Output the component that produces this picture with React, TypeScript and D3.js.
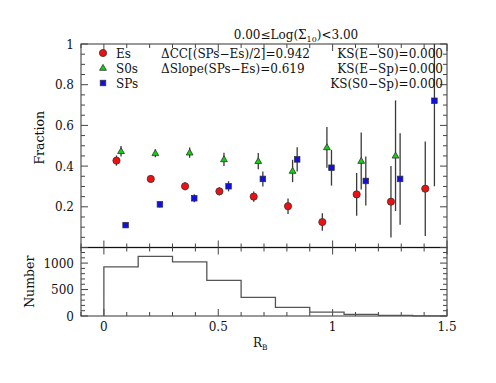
import React from "react";
import * as d3 from "d3";

const centers = [0.075, 0.225, 0.375, 0.525, 0.675, 0.825, 0.975, 1.125, 1.275, 1.425];
const esVals = [0.427, 0.337, 0.301, 0.276, 0.25, 0.203, 0.125, 0.261, 0.225, 0.289];
const esErr = [0.025, 0.016, 0.02, 0.02, 0.025, 0.038, 0.043, 0.105, 0.176, 0.232];
const s0Vals: (number | null)[] = [0.473, 0.463, 0.466, 0.433, 0.424, 0.376, 0.492, 0.425, 0.451, null];
const s0Err = [0.026, 0.02, 0.025, 0.033, 0.04, 0.055, 0.1, 0.14, 0.272, 0];
const spVals = [0.11, 0.212, 0.242, 0.301, 0.337, 0.433, 0.392, 0.327, 0.337, 0.721];
const spErr = [0.01, 0.015, 0.02, 0.025, 0.037, 0.06, 0.088, 0.12, 0.225, 0.42];
const histEdges = [0, 0.15, 0.3, 0.45, 0.6, 0.75, 0.9, 1.05, 1.2, 1.35, 1.5];
const histCounts = [930, 1126, 1025, 673, 353, 164, 75, 30, 12, 4];
const xTicks = [0, 0.5, 1, 1.5];
const fracTicks = [0.2, 0.4, 0.6, 0.8, 1];
const numTicks = [0, 500, 1000];

const FONT = "DejaVu Serif";
const L = 81, R = 447, T = 44, MID = 247.5, B = 316;

export default function App() {
  const x = d3.scaleLinear().domain([-0.1, 1.5]).range([L, R]);
  const y = d3.scaleLinear().domain([0, 1]).range([MID, T]);
  const yn = d3.scaleLinear().domain([0, 1295]).range([B, MID]);

  const off = 0.02;
  const errColor = "#3a3a3a";
  const clip = (v: number) => Math.max(0, Math.min(1, v));

  const minorX = d3.range(-0.1, 1.5001, 0.1).map((v) => +v.toFixed(2));
  const minorFrac = d3.range(0, 1.0001, 0.05).map((v) => +v.toFixed(2));
  const minorNum = d3.range(0, 1295, 100);

  const histPts: [number, number][] = [[x(0), yn(0)]];
  histCounts.forEach((c, i) => {
    histPts.push([x(histEdges[i]), yn(c)]);
    histPts.push([x(histEdges[i + 1]), yn(c)]);
  });
  const histLine = d3.line()(histPts) || "";

  const isMajorX = (v: number) => Math.abs(v * 2 - Math.round(v * 2)) < 1e-6;
  const isMajorF = (v: number) => Math.abs(v * 5 - Math.round(v * 5)) < 1e-6;

  const tri = (cx: number, cy: number, s: number) =>
    `M${cx},${cy - s}L${cx + s * 0.95},${cy + s * 0.65}L${cx - s * 0.95},${cy + s * 0.65}Z`;

  const fs = 12;

  return (
    <svg width={496} height={383} style={{ display: "block", position: "absolute", left: 0, top: 0 }} fontFamily={FONT}>
      <rect x={0} y={0} width={496} height={383} fill="white" />
      {/* frames */}
      <rect x={L} y={T} width={R - L} height={MID - T} fill="none" stroke="#555" strokeWidth={1.2} />
      <rect x={L} y={MID} width={R - L} height={B - MID} fill="none" stroke="#555" strokeWidth={1.2} />
      <line x1={L} x2={R} y1={MID} y2={MID} stroke="#111" strokeWidth={1.2} />

      {/* x ticks */}
      {minorX.map((v, i) => {
        const len = isMajorX(v) ? 7 : 4;
        const px = x(v);
        return (
          <g key={"xt" + i} stroke="#444" strokeWidth={1}>
            <line x1={px} x2={px} y1={T} y2={T + len} />
            <line x1={px} x2={px} y1={MID} y2={MID - len} />
            <line x1={px} x2={px} y1={MID} y2={MID + len} />
            <line x1={px} x2={px} y1={B} y2={B - len} />
          </g>
        );
      })}
      {/* frac y ticks */}
      {minorFrac.map((v, i) => {
        const len = isMajorF(v) ? 7 : 4;
        const py = y(v);
        return (
          <g key={"ft" + i} stroke="#444" strokeWidth={1}>
            <line x1={L} x2={L + len} y1={py} y2={py} />
            <line x1={R} x2={R - len} y1={py} y2={py} />
          </g>
        );
      })}
      {minorNum.map((v, i) => {
        const len = v % 500 === 0 ? 7 : 4;
        const py = yn(v);
        return (
          <g key={"nt" + i} stroke="#444" strokeWidth={1}>
            <line x1={L} x2={L + len} y1={py} y2={py} />
            <line x1={R} x2={R - len} y1={py} y2={py} />
          </g>
        );
      })}

      {/* tick labels */}
      {xTicks.map((v) => (
        <text key={"xl" + v} x={x(v)} y={B + 15} textAnchor="middle" fontSize={fs} fill="#111">
          {String(v)}
        </text>
      ))}
      {fracTicks.map((v) => (
        <text key={"fl" + v} x={L - 7} y={y(v) + 4.5} textAnchor="end" fontSize={fs} fill="#111">
          {String(v)}
        </text>
      ))}
      {numTicks.map((v) => (
        <text key={"nl" + v} x={L - 7} y={yn(v) + 4.5} textAnchor="end" fontSize={fs} fill="#111">
          {String(v)}
        </text>
      ))}

      {/* axis labels */}
      <text transform={`translate(44,${(T + MID) / 2 - 8}) rotate(-90)`} textAnchor="middle" fontSize={12.5} fill="#111">
        Fraction
      </text>
      <text transform={`translate(34,${(MID + B) / 2}) rotate(-90)`} textAnchor="middle" fontSize={12.5} fill="#111">
        Number
      </text>
      <text x={253} y={347} fontSize={12} fill="#111">
        R<tspan fontSize={7.5} dy={3}>B</tspan>
      </text>

      {/* title */}
      <text x={296} y={39} textAnchor="middle" fontSize={fs} fill="#111">
        0.00≤Log(Σ<tspan fontSize={8} dy={3}>10</tspan>
        <tspan dy={-3}>)&lt;3.00</tspan>
      </text>

      {/* histogram */}
      <path d={histLine} fill="none" stroke="#555" strokeWidth={1.3} />

      {/* error bars */}
      {centers.map((c, i) => (
        <g key={"eb" + i} stroke={errColor} strokeWidth={1.3}>
          <line x1={x(c - off)} x2={x(c - off)} y1={y(clip(esVals[i] - esErr[i]))} y2={y(clip(esVals[i] + esErr[i]))} />
          {s0Vals[i] !== null && (
            <line x1={x(c)} x2={x(c)} y1={y(clip((s0Vals[i] as number) - s0Err[i]))} y2={y(clip((s0Vals[i] as number) + s0Err[i]))} />
          )}
          <line x1={x(c + off)} x2={x(c + off)} y1={y(clip(spVals[i] - spErr[i]))} y2={y(clip(spVals[i] + spErr[i]))} />
        </g>
      ))}
      {/* markers */}
      {centers.map((c, i) => (
        <g key={"mk" + i}>
          <circle cx={x(c - off)} cy={y(esVals[i])} r={3.6} fill="#f01010" stroke="#333" strokeWidth={0.8} />
          {s0Vals[i] !== null && (
            <path d={tri(x(c), y(s0Vals[i] as number), 3.6)} fill="#10d010" stroke="#333" strokeWidth={0.8} />
          )}
          <rect x={x(c + off) - 2.8} y={y(spVals[i]) - 2.8} width={5.6} height={5.6} fill="#1010e0" stroke="#333" strokeWidth={0.7} />
        </g>
      ))}

      {/* legend */}
      <circle cx={103} cy={53} r={3.6} fill="#f01010" stroke="#333" strokeWidth={0.8} />
      <text x={116} y={57.5} fontSize={fs} fill="#111">Es</text>
      <path d={tri(103, 68, 3.6)} fill="#10d010" stroke="#333" strokeWidth={0.8} />
      <text x={116} y={72.5} fontSize={fs} fill="#111">S0s</text>
      <rect x={100.2} y={80.2} width={5.6} height={5.6} fill="#1010e0" stroke="#333" strokeWidth={0.7} />
      <text x={116} y={87.5} fontSize={fs} fill="#111">SPs</text>

      <text x={161} y={57.5} fontSize={fs} fill="#111">ΔCC[(SPs−Es)/2]=0.942</text>
      <text x={161} y={72.5} fontSize={fs} fill="#111">ΔSlope(SPs−Es)=0.619</text>

      <text x={443} y={57.5} textAnchor="end" fontSize={fs} fill="#111">KS(E−S0)=0.000</text>
      <text x={443} y={72.5} textAnchor="end" fontSize={fs} fill="#111">KS(E−Sp)=0.000</text>
      <text x={443} y={87.5} textAnchor="end" fontSize={fs} fill="#111">KS(S0−Sp)=0.000</text>
    </svg>
  );
}
